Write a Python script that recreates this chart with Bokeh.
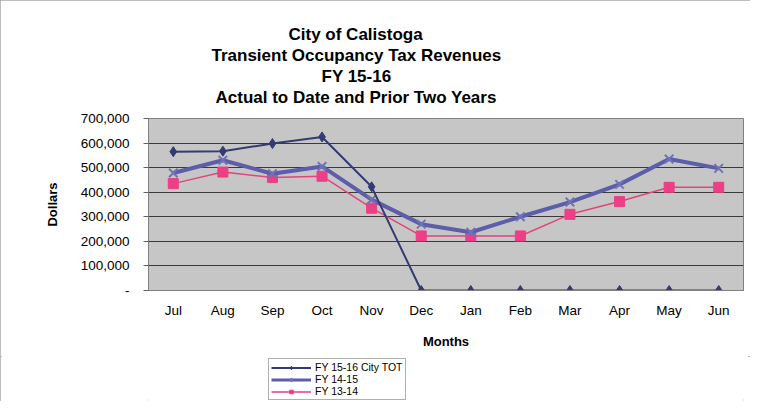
from bokeh.plotting import figure
from bokeh.layouts import column
from bokeh.models import Title, Legend, LegendItem, FixedTicker, Range1d
from bokeh.embed import file_html
from bokeh.resources import INLINE

months = ["Jul", "Aug", "Sep", "Oct", "Nov", "Dec", "Jan", "Feb", "Mar", "Apr", "May", "Jun"]
fy1516 = [565000, 567000, 598000, 625000, 422000, 0, 0, 0, 0, 0, 0, 0]
fy1415 = [478000, 530000, 475000, 505000, 370000, 270000, 237000, 300000, 360000, 432000, 535000, 497000]
fy1314 = [435000, 482000, 460000, 465000, 335000, 222000, 222000, 222000, 310000, 362000, 420000, 420000]
y_ticks = [0, 100000, 200000, 300000, 400000, 500000, 600000, 700000]
y_labels = {0: "-", 100000: "100,000", 200000: "200,000", 300000: "300,000",
            400000: "400,000", 500000: "500,000", 600000: "600,000", 700000: "700,000"}
title_lines = ["City of Calistoga", "Transient Occupancy Tax Revenues", "FY 15-16",
               "Actual to Date and Prior Two Years"]
series_names = ["FY 15-16 City TOT", "FY 14-15", "FY 13-14"]

FONT = "Liberation Sans"
# left offsets so that each title line is centred over the chart box rather than the plot area
title_offsets = [140, 63, 173, 67]

p = figure(x_range=months, width=750, height=356, output_backend="svg",
           toolbar_location=None, min_border_left=148, min_border_right=7,
           min_border_top=118, min_border_bottom=66)
p.y_range = Range1d(0, 700000)

p.background_fill_color = "#c6c6c6"
p.border_fill_color = "white"
p.outline_line_color = "#808080"
p.outline_line_width = 1

# small spacer between the title block and the plot area
p.add_layout(Title(text=" ", text_font_size="9px", standoff=0), "above")
# title lines, added bottom-up (first added sits nearest the plot)
for line, off in reversed(list(zip(title_lines, title_offsets))):
    t = Title(text=line, align="left", offset=off, text_font=FONT,
              text_font_size="17px", text_font_style="bold", text_color="black",
              standoff=0, text_line_height=1.0)
    p.add_layout(t, "above")

# axes
p.yaxis.ticker = FixedTicker(ticks=y_ticks)
p.yaxis.major_label_overrides = y_labels
p.yaxis.axis_label = "Dollars"
p.xaxis.axis_label = "Months"
for ax in (p.xaxis, p.yaxis):
    ax.axis_label_text_font = FONT
    ax.axis_label_text_font_style = "bold"
    ax.axis_label_text_font_size = "13px"
    ax.axis_label_text_color = "black"
    ax.major_label_text_font = FONT
    ax.major_label_text_font_size = "13.5px"
    ax.major_label_text_color = "black"
    ax.axis_line_color = "#808080"
    ax.major_tick_line_color = "#606060"
    ax.minor_tick_line_color = None
    ax.major_tick_out = 5
    ax.major_tick_in = 0
p.yaxis.axis_label_standoff = 18
p.yaxis.major_label_standoff = 14
p.xaxis.axis_label_standoff = 13
p.xaxis.major_label_standoff = 7
p.xaxis.major_tick_line_color = None

p.xgrid.grid_line_color = None
p.ygrid.grid_line_color = "#3a3a3a"
p.ygrid.grid_line_width = 1.2

styles = [
    dict(line_color="#343b72", line_width=2, marker="diamond", msize=10, fill="#343b72", mline="#343b72", mw=1),
    dict(line_color="#5c5eaa", line_width=4, marker="x", msize=12, fill=None, mline="#7072b8", mw=2),
    dict(line_color="#e0457c", line_width=1.5, marker="square", msize=10, fill="#ec3f86", mline="#ec3f86", mw=1),
]
data = [fy1516, fy1415, fy1314]

for vals, st in reversed(list(zip(data, styles))):
    p.line(months, vals, line_color=st["line_color"], line_width=st["line_width"])
    p.scatter(months, vals, marker=st["marker"], size=st["msize"], fill_color=st["fill"],
              line_color=st["mline"], line_width=st["mw"])

# legend strip below the chart; the same series are drawn here outside the visible range
# so that the legend gets proper glyphs
q = figure(width=750, height=45, output_backend="svg", toolbar_location=None,
           x_range=months, y_range=Range1d(-2, -1), min_border=0)
q.axis.visible = False
q.grid.visible = False
q.outline_line_color = None
q.background_fill_color = "white"
items = []
for name, vals, st in zip(series_names, data, styles):
    rl = q.line(months, vals, line_color=st["line_color"], line_width=min(st["line_width"], 3))
    rm = q.scatter(months, vals, marker=st["marker"], size=st["msize"] - 3, fill_color=st["fill"],
                   line_color=st["mline"], line_width=st["mw"])
    items.append(LegendItem(label=name, renderers=[rl, rm]))
legend = Legend(items=items, location=(120, 1), label_text_font=FONT, label_text_font_size="10.5px",
                label_text_color="black", label_text_line_height=1.0,
                label_height=9, glyph_height=9, glyph_width=40, spacing=0, padding=2,
                margin=0, border_line_color="#606060", background_fill_color="white",
                label_standoff=4)
q.add_layout(legend, "center")

layout = column(p, q, spacing=0, styles={"outline": "2px solid #a8a8a8", "outline-offset": "-2px"})
open("out.html", "w").write(file_html(layout, INLINE))
